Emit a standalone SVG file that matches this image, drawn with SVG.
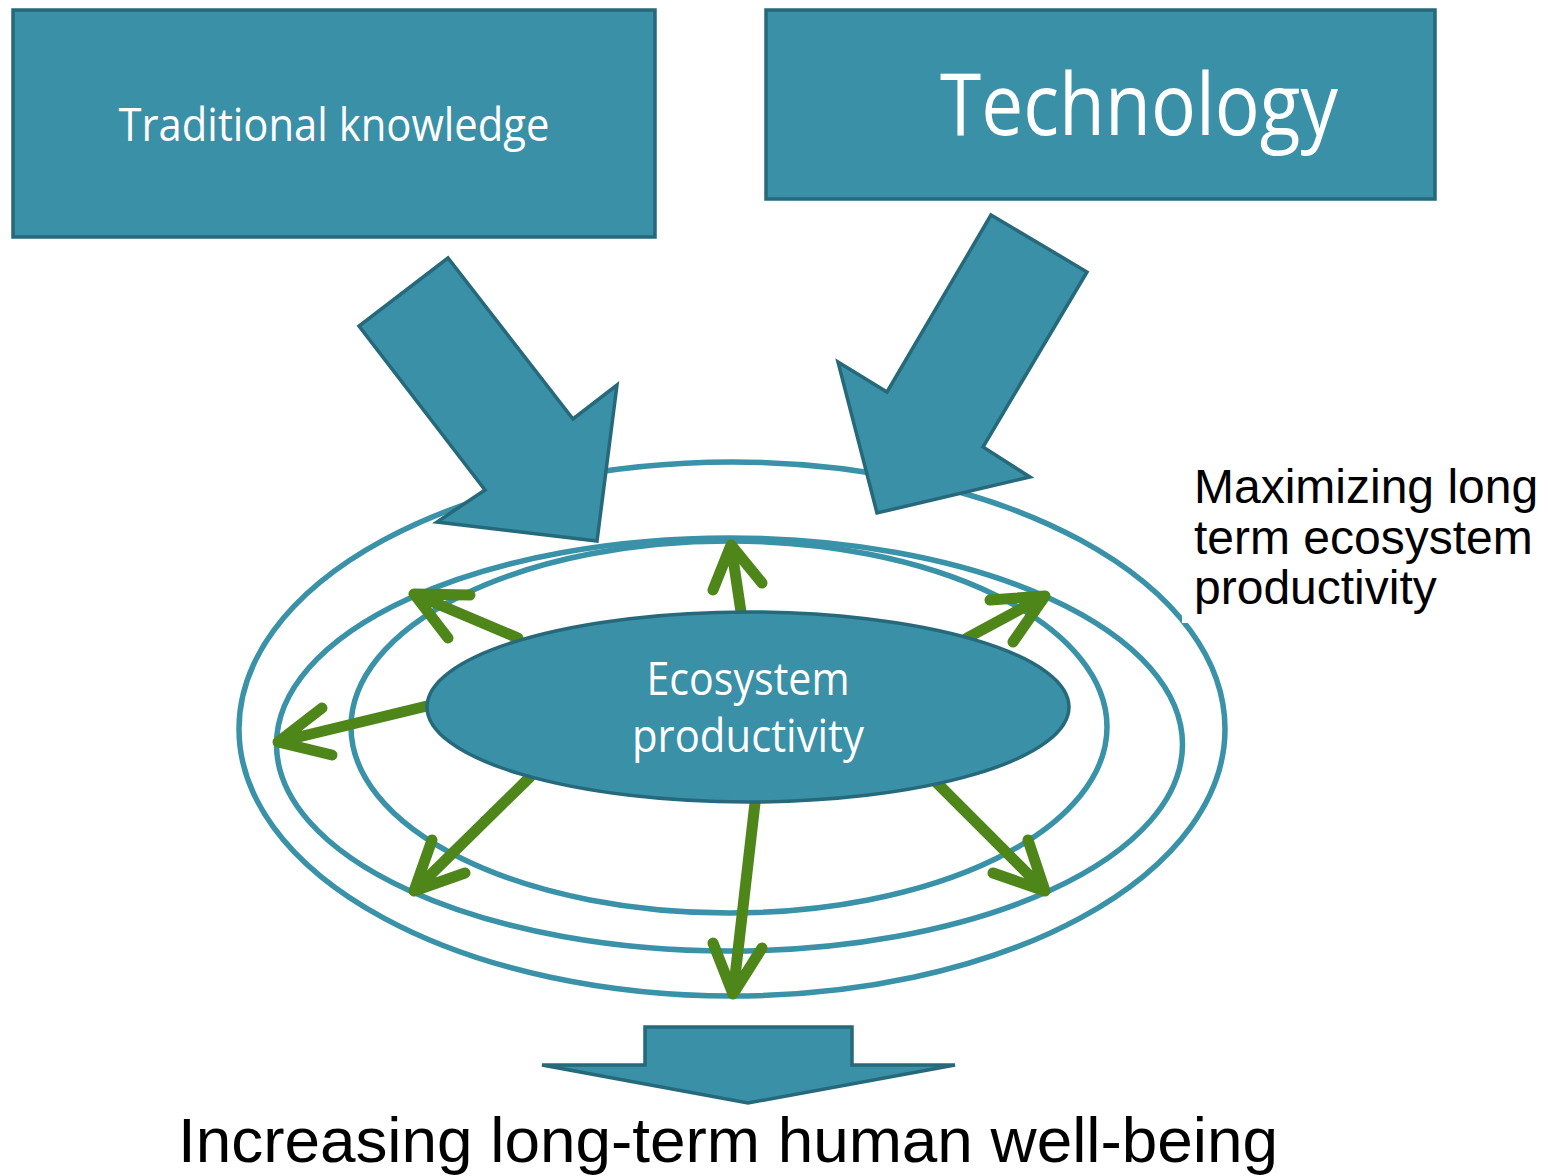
<svg xmlns="http://www.w3.org/2000/svg" width="1548" height="1176" viewBox="0 0 1548 1176">
  <style>
    .box { fill: #3a90a7; stroke: #25697b; stroke-width: 3.5; stroke-linejoin: miter; }
    .ring { fill: none; stroke: #3a92a8; stroke-width: 5.5; }
    .grow { fill: none; stroke: #4e861a; stroke-width: 11; stroke-linecap: round; stroke-linejoin: round; }
    .lbl { fill: #ffffff; font-family: "Open Sans", "DejaVu Sans", sans-serif; }
    .blk { fill: #000000; font-family: "Liberation Sans", Arial, sans-serif; }
  </style>
  <rect width="1548" height="1176" fill="#ffffff"/>

  <!-- productivity rings -->
  <g id="rings">
    <ellipse class="ring" cx="729" cy="727" rx="378" ry="186"/>
    <ellipse class="ring" cx="729.5" cy="744.5" rx="453" ry="206.5"/>
    <ellipse class="ring" cx="732" cy="729" rx="493" ry="267"/>
  </g>

  <!-- caption area for the right-hand label -->
  <rect x="1182" y="450" width="366" height="173" fill="#ffffff"/>

  <!-- input boxes -->
  <g id="traditional-knowledge">
    <rect class="box" x="13" y="10" width="642" height="227"/>
    <text class="lbl" x="334" y="141" font-size="46" text-anchor="middle" textLength="431" lengthAdjust="spacingAndGlyphs">Traditional knowledge</text>
  </g>
  <g id="technology">
    <rect class="box" x="766" y="10" width="669" height="189"/>
    <text class="lbl" x="1139" y="135" font-size="86" text-anchor="middle" textLength="398" lengthAdjust="spacingAndGlyphs">Technology</text>
  </g>

  <g id="connectors">
    <!-- green outward arrows from the core -->
    <g id="growth-arrows">
      <path class="grow" d="M741,612 L731,545 M713,590 L731,545 L762,583"/>
      <path class="grow" d="M518,638 L414,594 M470,595 L414,594 L448,638"/>
      <path class="grow" d="M427,706 L278,742 M322,708 L278,742 L332,755"/>
      <path class="grow" d="M530,777 L414,891 M432,840 L414,891 L465,873"/>
      <path class="grow" d="M755,803 L733,994 M713,943 L733,994 L762,948"/>
      <path class="grow" d="M937,783 L1045,891 M1028,840 L1045,891 L993,873"/>
      <path class="grow" d="M967,638 L1045,596 M990,600 L1045,596 L1013,642"/>
    </g>
    <!-- block arrows into the rings -->
    <polygon id="arrow-traditional" class="box" points="448,258 359,326 485,490 437,522 597,541 617,385 573,419"/>
    <polygon id="arrow-technology" class="box" points="991,215 1087,272 983,447 1030,477 877,513 838,362 887,392"/>
    <!-- outcome arrow -->
    <polygon id="arrow-outcome" class="box" points="645,1027 852,1027 852,1065 955,1065 748,1103 542,1065 645,1065"/>
  </g>

  <!-- core node -->
  <g id="ecosystem-productivity">
    <ellipse cx="748" cy="707" rx="321" ry="95" fill="#3a90a7" stroke="#25697b" stroke-width="3.5"/>
    <text class="lbl" x="748" y="695" font-size="46" text-anchor="middle" textLength="203" lengthAdjust="spacingAndGlyphs">Ecosystem</text>
    <text class="lbl" x="748" y="752" font-size="46" text-anchor="middle" textLength="232" lengthAdjust="spacingAndGlyphs">productivity</text>
  </g>

  <g id="ring-label">
    <text class="blk" x="1194" y="503" font-size="48">Maximizing long</text>
    <text class="blk" x="1194" y="554" font-size="48">term ecosystem</text>
    <text class="blk" x="1194" y="604" font-size="48">productivity</text>
  </g>

  <g id="outcome-label">
    <text class="blk" x="728" y="1162" font-size="63" text-anchor="middle" textLength="1100" lengthAdjust="spacingAndGlyphs">Increasing long-term human well-being</text>
  </g>
</svg>
